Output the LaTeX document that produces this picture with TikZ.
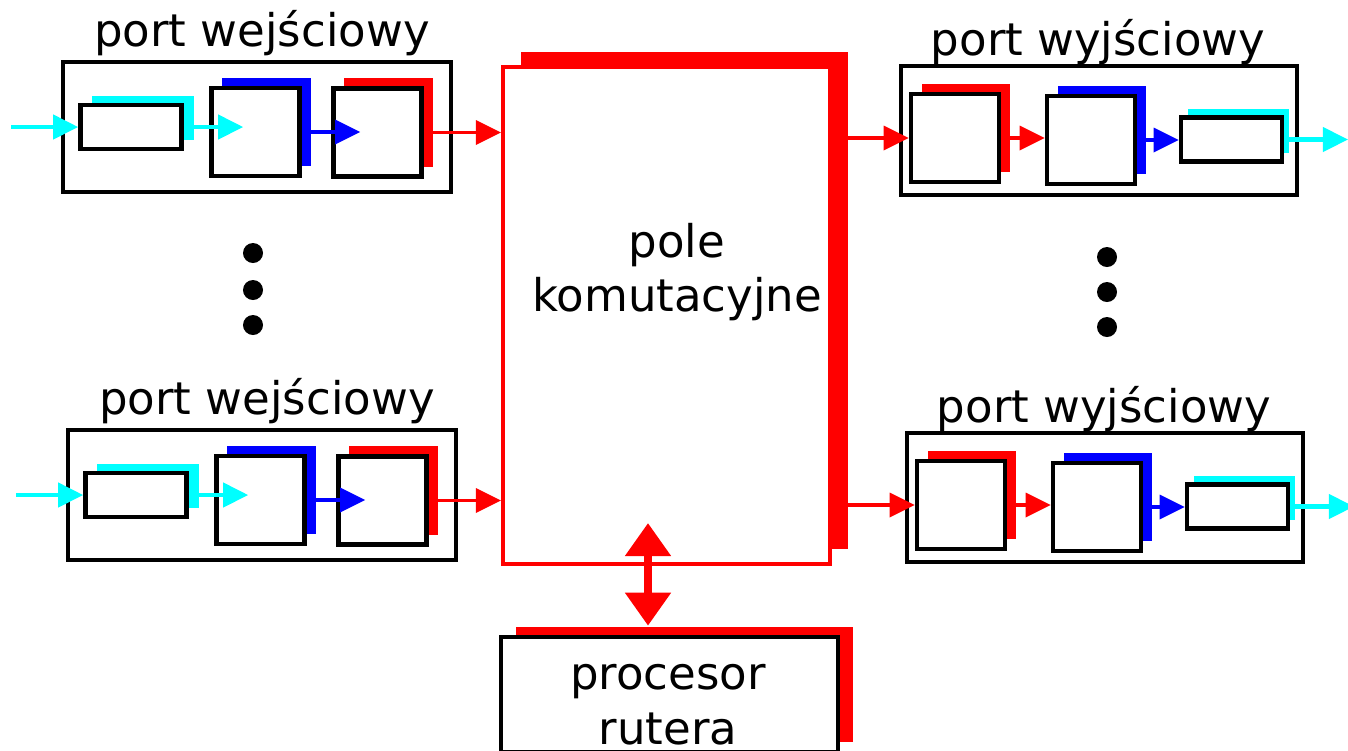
\documentclass[tikz,border=0pt]{standalone}
\usepackage{fontspec}
\setmainfont{DejaVu Sans}
\usetikzlibrary{arrows.meta,shadows}
\definecolor{aqua}{RGB}{0,255,255}

\begin{document}
\begin{tikzpicture}[
       x=0.01cm, y=-0.01cm,
       every node/.style={font=\fontsize{12.8}{15.6}\selectfont},
       box/.style={draw, fill=white, line width=1.3pt, inner sep=0pt},
       port/.style={box, minimum width=3.88cm, minimum height=1.3cm},
       sq/.style={box, minimum width=0.88cm, minimum height=0.88cm},
       buf/.style={box, minimum width=1.01cm, minimum height=0.44cm},
       shad/.style={drop shadow={shadow xshift=0.11cm, shadow yshift=0.10cm, opacity=1, fill=#1}},
       dot/.style={circle, fill=black, inner sep=0pt, minimum size=0.2cm},
       carr/.style={aqua, line width=1.2pt, -{Triangle[length=2.5mm,width=2.4mm]}},
       barr/.style={blue, line width=1pt, -{Triangle[length=2.5mm,width=2.4mm]}},
       rarr/.style={red, line width=1pt, -{Triangle[length=2.5mm,width=2.4mm]}},
       dblarr/.style={red, line width=2.3pt, {Triangle[length=3.3mm,width=4.4mm]}-{Triangle[length=3.3mm,width=4.4mm]}}
     ]
\useasboundingbox (0,0) rectangle (1348,750);
\clip (0,0) rectangle (1348,750);

\node[box, draw=red, line width=1.1pt, minimum width=3.27cm, minimum height=4.97cm,
      drop shadow={shadow xshift=0.18cm, shadow yshift=0.15cm, opacity=1, fill=red}] (fabric) at (666.5,315.5) {};
\node[align=center] (fabric-text) at (677,272) {pole\\komutacyjne};

\node[box, minimum width=3.37cm, minimum height=1.15cm,
      drop shadow={shadow xshift=0.15cm, shadow yshift=0.10cm, opacity=1, fill=red}] (proc) at (669.5,694.5) {};
\node[align=center] (proc-text) at (668,705) {procesor\\rutera};

\coordinate (fab-port) at (648,523);
\draw[dblarr, shorten >=0.09cm] (fab-port) -- (fab-port |- proc.north);

\foreach \dx/\dy/\i in {0/0/1, 5/368/2} {
  \begin{scope}[shift={(\dx,\dy)}]
    \node[port] (in\i) at (257,127) {};
    \node (in\i-title) at (262,33) {port wejściowy};
    \node[buf, drop shadow={shadow xshift=0.12cm, shadow yshift=0.09cm, opacity=1, fill=aqua}] (in\i-buf) at (131,127) {};
    \node[sq, shad=blue] (in\i-q1) at (255.5,132) {};
    \node[sq, shad=red] (in\i-q2) at (377.5,132.5) {};
    \coordinate (in\i-src) at (11,127);
    \draw[carr] (in\i-src) -- (in\i-buf.west);
    \draw[carr, shorten >=-0.34cm] (in\i-buf.east) -- (in\i-buf.east -| in\i-q1.west);
    \draw[barr, shorten >=-0.29cm] (in\i-q1.east) -- (in\i-q1.east -| in\i-q2.west);
    \draw[rarr] (in\i-q2.east) -- (in\i-q2.east -| fabric.west);
  \end{scope}
}

\foreach \dx/\dy/\i in {0/0/1, 6/367/2} {
  \begin{scope}[shift={(\dx,\dy)}]
    \node[port, minimum width=3.96cm, minimum height=1.29cm] (out\i) at (1099,130.5) {};
    \node (out\i-title) at (1098,42) {port wyjściowy};
    \node[sq, shad=red] (out\i-q1) at (955,138) {};
    \node[sq, shad=blue] (out\i-q2) at (1091,140) {};
    \node[buf, drop shadow={shadow xshift=0.07cm, shadow yshift=0.09cm, opacity=1, fill=aqua}] (out\i-buf) at (1231.5,139.5) {};
    \coordinate (out\i-dst) at (1348,138);
    \draw[rarr] (fabric.east |- out\i-q1.west) -- (out\i-q1.west);
    \draw[rarr] (out\i-q1.east) -- (out\i-q1.east -| out\i-q2.west);
    \draw[barr] (out\i-q2.east) -- (out\i-q2.east -| out\i-buf.west);
    \draw[carr] (out\i-buf.east) -- (out\i-buf.east -| out\i-dst);
  \end{scope}
}

\foreach \y [count=\k] in {253,290,325} \node[dot] (ldot\k) at (253,\y) {};
\foreach \y [count=\k] in {257,292,327} \node[dot] (rdot\k) at (1107,\y) {};

\end{tikzpicture}
\end{document}
